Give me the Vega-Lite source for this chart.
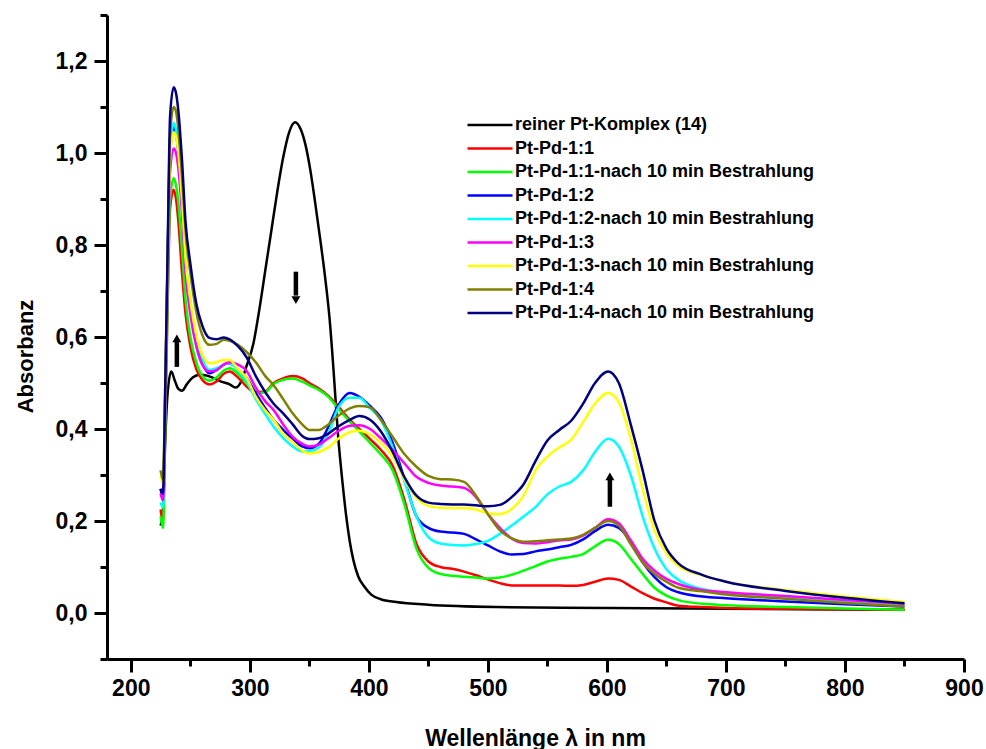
{
"$schema":"https://vega.github.io/schema/vega-lite/v6.json",
"width":857,"height":644,
"autosize":{"type":"none"},
"padding":{"left":107,"top":15,"right":22,"bottom":90},
"background":"white",
"config":{"view":{"stroke":null},"font":"Liberation Sans",
"axis":{"grid":false,"domainColor":"black","domainWidth":3,"tickColor":"black","tickWidth":3,"labelColor":"black","labelFont":"Liberation Sans","labelFontSize":23,"labelFontWeight":"bold","titleColor":"black","titleFont":"Liberation Sans","titleFontWeight":"bold","labelFlush":false,"labelOverlap":false}},
"datasets":{
"names":[{"code":"K","name":"reiner Pt-Komplex (14)"},{"code":"R","name":"Pt-Pd-1:1"},{"code":"G","name":"Pt-Pd-1:1-nach 10 min Bestrahlung"},{"code":"B","name":"Pt-Pd-1:2"},{"code":"C","name":"Pt-Pd-1:2-nach 10 min Bestrahlung"},{"code":"M","name":"Pt-Pd-1:3"},{"code":"Y","name":"Pt-Pd-1:3-nach 10 min Bestrahlung"},{"code":"O","name":"Pt-Pd-1:4"},{"code":"N","name":"Pt-Pd-1:4-nach 10 min Bestrahlung"}],
"spectra":[
{"s":"K","x":225,"y":0.19},{"s":"K","x":227,"y":0.22},{"s":"K","x":229,"y":0.38},{"s":"K","x":231,"y":0.48},{"s":"K","x":234,"y":0.525},{"s":"K","x":237,"y":0.505},{"s":"K","x":240,"y":0.487},{"s":"K","x":243,"y":0.483},{"s":"K","x":247,"y":0.497},{"s":"K","x":252,"y":0.512},{"s":"K","x":258,"y":0.518},{"s":"K","x":264,"y":0.516},{"s":"K","x":270,"y":0.51},{"s":"K","x":276,"y":0.503},{"s":"K","x":283,"y":0.497},{"s":"K","x":288,"y":0.49},{"s":"K","x":293,"y":0.505},{"s":"K","x":297,"y":0.535},{"s":"K","x":303,"y":0.586},{"s":"K","x":308,"y":0.66},{"s":"K","x":313,"y":0.745},{"s":"K","x":318,"y":0.83},{"s":"K","x":323,"y":0.915},{"s":"K","x":328,"y":0.99},{"s":"K","x":333,"y":1.045},{"s":"K","x":338,"y":1.067},{"s":"K","x":343,"y":1.05},{"s":"K","x":347,"y":1.015},{"s":"K","x":351,"y":0.96},{"s":"K","x":355,"y":0.89},{"s":"K","x":359,"y":0.815},{"s":"K","x":363,"y":0.735},{"s":"K","x":367,"y":0.64},{"s":"K","x":370,"y":0.54},{"s":"K","x":374,"y":0.39},{"s":"K","x":378,"y":0.28},{"s":"K","x":381,"y":0.21},{"s":"K","x":384,"y":0.155},{"s":"K","x":387,"y":0.115},{"s":"K","x":391,"y":0.08},{"s":"K","x":396,"y":0.058},{"s":"K","x":402,"y":0.04},{"s":"K","x":410,"y":0.03},{"s":"K","x":423,"y":0.024},{"s":"K","x":450,"y":0.018},{"s":"K","x":507,"y":0.013},{"s":"K","x":600,"y":0.011},{"s":"K","x":700,"y":0.009},{"s":"K","x":850,"y":0.007},
{"s":"R","x":225,"y":0.225},{"s":"R","x":227,"y":0.2},{"s":"R","x":229,"y":0.42},{"s":"R","x":231,"y":0.68},{"s":"R","x":233,"y":0.88},{"s":"R","x":236,"y":0.92},{"s":"R","x":238,"y":0.9},{"s":"R","x":240,"y":0.85},{"s":"R","x":243,"y":0.74},{"s":"R","x":246,"y":0.65},{"s":"R","x":250,"y":0.58},{"s":"R","x":255,"y":0.53},{"s":"R","x":260,"y":0.507},{"s":"R","x":266,"y":0.497},{"s":"R","x":272,"y":0.503},{"s":"R","x":278,"y":0.52},{"s":"R","x":283,"y":0.525},{"s":"R","x":290,"y":0.512},{"s":"R","x":297,"y":0.493},{"s":"R","x":305,"y":0.48},{"s":"R","x":313,"y":0.482},{"s":"R","x":320,"y":0.5},{"s":"R","x":328,"y":0.51},{"s":"R","x":336,"y":0.515},{"s":"R","x":344,"y":0.51},{"s":"R","x":350,"y":0.5},{"s":"R","x":358,"y":0.488},{"s":"R","x":366,"y":0.472},{"s":"R","x":374,"y":0.45},{"s":"R","x":384,"y":0.42},{"s":"R","x":392,"y":0.4},{"s":"R","x":401,"y":0.378},{"s":"R","x":410,"y":0.355},{"s":"R","x":420,"y":0.32},{"s":"R","x":430,"y":0.245},{"s":"R","x":440,"y":0.15},{"s":"R","x":450,"y":0.112},{"s":"R","x":460,"y":0.1},{"s":"R","x":470,"y":0.096},{"s":"R","x":480,"y":0.09},{"s":"R","x":490,"y":0.082},{"s":"R","x":500,"y":0.073},{"s":"R","x":510,"y":0.065},{"s":"R","x":520,"y":0.06},{"s":"R","x":530,"y":0.06},{"s":"R","x":540,"y":0.06},{"s":"R","x":550,"y":0.06},{"s":"R","x":560,"y":0.06},{"s":"R","x":570,"y":0.059},{"s":"R","x":580,"y":0.061},{"s":"R","x":590,"y":0.068},{"s":"R","x":601,"y":0.075},{"s":"R","x":610,"y":0.072},{"s":"R","x":620,"y":0.058},{"s":"R","x":630,"y":0.043},{"s":"R","x":640,"y":0.031},{"s":"R","x":650,"y":0.023},{"s":"R","x":660,"y":0.016},{"s":"R","x":680,"y":0.013},{"s":"R","x":700,"y":0.011},{"s":"R","x":750,"y":0.009},{"s":"R","x":800,"y":0.008},{"s":"R","x":850,"y":0.007},
{"s":"G","x":225,"y":0.21},{"s":"G","x":227,"y":0.185},{"s":"G","x":229,"y":0.42},{"s":"G","x":231,"y":0.7},{"s":"G","x":233,"y":0.9},{"s":"G","x":236,"y":0.945},{"s":"G","x":238,"y":0.93},{"s":"G","x":240,"y":0.89},{"s":"G","x":243,"y":0.79},{"s":"G","x":246,"y":0.68},{"s":"G","x":250,"y":0.6},{"s":"G","x":255,"y":0.545},{"s":"G","x":260,"y":0.515},{"s":"G","x":266,"y":0.505},{"s":"G","x":272,"y":0.512},{"s":"G","x":278,"y":0.527},{"s":"G","x":283,"y":0.532},{"s":"G","x":290,"y":0.52},{"s":"G","x":297,"y":0.5},{"s":"G","x":305,"y":0.478},{"s":"G","x":313,"y":0.48},{"s":"G","x":320,"y":0.498},{"s":"G","x":328,"y":0.507},{"s":"G","x":336,"y":0.51},{"s":"G","x":344,"y":0.503},{"s":"G","x":350,"y":0.495},{"s":"G","x":358,"y":0.485},{"s":"G","x":366,"y":0.47},{"s":"G","x":374,"y":0.445},{"s":"G","x":384,"y":0.416},{"s":"G","x":392,"y":0.395},{"s":"G","x":401,"y":0.37},{"s":"G","x":410,"y":0.345},{"s":"G","x":420,"y":0.31},{"s":"G","x":430,"y":0.235},{"s":"G","x":440,"y":0.14},{"s":"G","x":450,"y":0.098},{"s":"G","x":460,"y":0.085},{"s":"G","x":470,"y":0.081},{"s":"G","x":480,"y":0.079},{"s":"G","x":490,"y":0.077},{"s":"G","x":500,"y":0.075},{"s":"G","x":510,"y":0.077},{"s":"G","x":520,"y":0.083},{"s":"G","x":530,"y":0.092},{"s":"G","x":540,"y":0.102},{"s":"G","x":550,"y":0.112},{"s":"G","x":560,"y":0.118},{"s":"G","x":570,"y":0.122},{"s":"G","x":580,"y":0.128},{"s":"G","x":590,"y":0.145},{"s":"G","x":601,"y":0.159},{"s":"G","x":610,"y":0.15},{"s":"G","x":620,"y":0.118},{"s":"G","x":630,"y":0.085},{"s":"G","x":640,"y":0.055},{"s":"G","x":650,"y":0.038},{"s":"G","x":660,"y":0.028},{"s":"G","x":680,"y":0.02},{"s":"G","x":700,"y":0.017},{"s":"G","x":750,"y":0.013},{"s":"G","x":800,"y":0.01},{"s":"G","x":850,"y":0.007},
{"s":"B","x":225,"y":0.27},{"s":"B","x":227,"y":0.25},{"s":"B","x":229,"y":0.48},{"s":"B","x":231,"y":0.77},{"s":"B","x":233,"y":1.0},{"s":"B","x":236,"y":1.055},{"s":"B","x":238,"y":1.04},{"s":"B","x":240,"y":1.0},{"s":"B","x":243,"y":0.89},{"s":"B","x":246,"y":0.76},{"s":"B","x":250,"y":0.67},{"s":"B","x":255,"y":0.59},{"s":"B","x":260,"y":0.545},{"s":"B","x":266,"y":0.521},{"s":"B","x":272,"y":0.528},{"s":"B","x":278,"y":0.54},{"s":"B","x":283,"y":0.543},{"s":"B","x":290,"y":0.53},{"s":"B","x":297,"y":0.512},{"s":"B","x":305,"y":0.478},{"s":"B","x":313,"y":0.445},{"s":"B","x":320,"y":0.42},{"s":"B","x":328,"y":0.398},{"s":"B","x":336,"y":0.378},{"s":"B","x":344,"y":0.362},{"s":"B","x":350,"y":0.358},{"s":"B","x":358,"y":0.368},{"s":"B","x":366,"y":0.405},{"s":"B","x":374,"y":0.45},{"s":"B","x":384,"y":0.478},{"s":"B","x":392,"y":0.47},{"s":"B","x":401,"y":0.45},{"s":"B","x":410,"y":0.425},{"s":"B","x":420,"y":0.37},{"s":"B","x":430,"y":0.29},{"s":"B","x":440,"y":0.21},{"s":"B","x":450,"y":0.185},{"s":"B","x":460,"y":0.177},{"s":"B","x":470,"y":0.175},{"s":"B","x":480,"y":0.172},{"s":"B","x":490,"y":0.16},{"s":"B","x":500,"y":0.147},{"s":"B","x":510,"y":0.134},{"s":"B","x":520,"y":0.127},{"s":"B","x":530,"y":0.128},{"s":"B","x":540,"y":0.134},{"s":"B","x":550,"y":0.138},{"s":"B","x":560,"y":0.143},{"s":"B","x":570,"y":0.148},{"s":"B","x":580,"y":0.16},{"s":"B","x":590,"y":0.178},{"s":"B","x":601,"y":0.192},{"s":"B","x":610,"y":0.185},{"s":"B","x":620,"y":0.155},{"s":"B","x":630,"y":0.11},{"s":"B","x":640,"y":0.078},{"s":"B","x":650,"y":0.056},{"s":"B","x":660,"y":0.045},{"s":"B","x":680,"y":0.036},{"s":"B","x":700,"y":0.032},{"s":"B","x":750,"y":0.025},{"s":"B","x":800,"y":0.019},{"s":"B","x":850,"y":0.014},
{"s":"C","x":225,"y":0.24},{"s":"C","x":227,"y":0.23},{"s":"C","x":229,"y":0.47},{"s":"C","x":231,"y":0.77},{"s":"C","x":233,"y":1.0},{"s":"C","x":236,"y":1.065},{"s":"C","x":238,"y":1.05},{"s":"C","x":240,"y":1.01},{"s":"C","x":243,"y":0.9},{"s":"C","x":246,"y":0.77},{"s":"C","x":250,"y":0.68},{"s":"C","x":255,"y":0.6},{"s":"C","x":260,"y":0.553},{"s":"C","x":266,"y":0.528},{"s":"C","x":272,"y":0.532},{"s":"C","x":278,"y":0.54},{"s":"C","x":283,"y":0.543},{"s":"C","x":290,"y":0.527},{"s":"C","x":297,"y":0.505},{"s":"C","x":305,"y":0.465},{"s":"C","x":313,"y":0.432},{"s":"C","x":320,"y":0.405},{"s":"C","x":328,"y":0.38},{"s":"C","x":336,"y":0.362},{"s":"C","x":344,"y":0.351},{"s":"C","x":350,"y":0.352},{"s":"C","x":358,"y":0.36},{"s":"C","x":366,"y":0.39},{"s":"C","x":374,"y":0.445},{"s":"C","x":384,"y":0.468},{"s":"C","x":392,"y":0.468},{"s":"C","x":401,"y":0.445},{"s":"C","x":410,"y":0.42},{"s":"C","x":420,"y":0.36},{"s":"C","x":430,"y":0.285},{"s":"C","x":440,"y":0.21},{"s":"C","x":450,"y":0.165},{"s":"C","x":460,"y":0.151},{"s":"C","x":470,"y":0.148},{"s":"C","x":480,"y":0.147},{"s":"C","x":490,"y":0.15},{"s":"C","x":500,"y":0.157},{"s":"C","x":510,"y":0.172},{"s":"C","x":520,"y":0.19},{"s":"C","x":530,"y":0.21},{"s":"C","x":540,"y":0.23},{"s":"C","x":550,"y":0.258},{"s":"C","x":560,"y":0.275},{"s":"C","x":570,"y":0.285},{"s":"C","x":580,"y":0.31},{"s":"C","x":590,"y":0.35},{"s":"C","x":601,"y":0.379},{"s":"C","x":610,"y":0.362},{"s":"C","x":620,"y":0.3},{"s":"C","x":630,"y":0.21},{"s":"C","x":640,"y":0.14},{"s":"C","x":650,"y":0.095},{"s":"C","x":660,"y":0.072},{"s":"C","x":680,"y":0.052},{"s":"C","x":700,"y":0.044},{"s":"C","x":750,"y":0.033},{"s":"C","x":800,"y":0.024},{"s":"C","x":850,"y":0.016},
{"s":"M","x":225,"y":0.26},{"s":"M","x":227,"y":0.245},{"s":"M","x":229,"y":0.46},{"s":"M","x":231,"y":0.74},{"s":"M","x":233,"y":0.96},{"s":"M","x":236,"y":1.01},{"s":"M","x":238,"y":1.0},{"s":"M","x":240,"y":0.965},{"s":"M","x":243,"y":0.87},{"s":"M","x":246,"y":0.74},{"s":"M","x":250,"y":0.65},{"s":"M","x":255,"y":0.58},{"s":"M","x":260,"y":0.54},{"s":"M","x":266,"y":0.525},{"s":"M","x":272,"y":0.528},{"s":"M","x":278,"y":0.54},{"s":"M","x":283,"y":0.545},{"s":"M","x":290,"y":0.54},{"s":"M","x":297,"y":0.527},{"s":"M","x":305,"y":0.49},{"s":"M","x":313,"y":0.46},{"s":"M","x":320,"y":0.441},{"s":"M","x":328,"y":0.41},{"s":"M","x":336,"y":0.383},{"s":"M","x":344,"y":0.368},{"s":"M","x":350,"y":0.362},{"s":"M","x":358,"y":0.366},{"s":"M","x":366,"y":0.38},{"s":"M","x":374,"y":0.395},{"s":"M","x":384,"y":0.407},{"s":"M","x":392,"y":0.408},{"s":"M","x":401,"y":0.4},{"s":"M","x":410,"y":0.38},{"s":"M","x":420,"y":0.354},{"s":"M","x":430,"y":0.325},{"s":"M","x":440,"y":0.296},{"s":"M","x":450,"y":0.283},{"s":"M","x":460,"y":0.277},{"s":"M","x":470,"y":0.275},{"s":"M","x":480,"y":0.272},{"s":"M","x":490,"y":0.252},{"s":"M","x":500,"y":0.215},{"s":"M","x":510,"y":0.185},{"s":"M","x":520,"y":0.162},{"s":"M","x":530,"y":0.152},{"s":"M","x":540,"y":0.151},{"s":"M","x":550,"y":0.154},{"s":"M","x":560,"y":0.158},{"s":"M","x":570,"y":0.16},{"s":"M","x":580,"y":0.168},{"s":"M","x":590,"y":0.185},{"s":"M","x":601,"y":0.204},{"s":"M","x":610,"y":0.195},{"s":"M","x":620,"y":0.158},{"s":"M","x":630,"y":0.118},{"s":"M","x":640,"y":0.092},{"s":"M","x":650,"y":0.074},{"s":"M","x":660,"y":0.063},{"s":"M","x":680,"y":0.05},{"s":"M","x":700,"y":0.045},{"s":"M","x":750,"y":0.037},{"s":"M","x":800,"y":0.028},{"s":"M","x":850,"y":0.02},
{"s":"Y","x":225,"y":0.3},{"s":"Y","x":227,"y":0.28},{"s":"Y","x":229,"y":0.5},{"s":"Y","x":231,"y":0.77},{"s":"Y","x":233,"y":0.99},{"s":"Y","x":236,"y":1.045},{"s":"Y","x":238,"y":1.035},{"s":"Y","x":240,"y":1.0},{"s":"Y","x":243,"y":0.9},{"s":"Y","x":246,"y":0.77},{"s":"Y","x":250,"y":0.68},{"s":"Y","x":255,"y":0.605},{"s":"Y","x":260,"y":0.562},{"s":"Y","x":266,"y":0.543},{"s":"Y","x":272,"y":0.545},{"s":"Y","x":278,"y":0.55},{"s":"Y","x":283,"y":0.55},{"s":"Y","x":290,"y":0.53},{"s":"Y","x":297,"y":0.512},{"s":"Y","x":305,"y":0.47},{"s":"Y","x":313,"y":0.44},{"s":"Y","x":320,"y":0.42},{"s":"Y","x":328,"y":0.39},{"s":"Y","x":336,"y":0.372},{"s":"Y","x":344,"y":0.353},{"s":"Y","x":350,"y":0.347},{"s":"Y","x":358,"y":0.35},{"s":"Y","x":366,"y":0.36},{"s":"Y","x":374,"y":0.378},{"s":"Y","x":384,"y":0.393},{"s":"Y","x":392,"y":0.396},{"s":"Y","x":401,"y":0.388},{"s":"Y","x":410,"y":0.37},{"s":"Y","x":420,"y":0.34},{"s":"Y","x":430,"y":0.29},{"s":"Y","x":440,"y":0.25},{"s":"Y","x":450,"y":0.233},{"s":"Y","x":460,"y":0.229},{"s":"Y","x":470,"y":0.228},{"s":"Y","x":480,"y":0.228},{"s":"Y","x":490,"y":0.225},{"s":"Y","x":500,"y":0.217},{"s":"Y","x":510,"y":0.215},{"s":"Y","x":520,"y":0.226},{"s":"Y","x":530,"y":0.255},{"s":"Y","x":540,"y":0.31},{"s":"Y","x":550,"y":0.34},{"s":"Y","x":560,"y":0.36},{"s":"Y","x":570,"y":0.377},{"s":"Y","x":580,"y":0.415},{"s":"Y","x":590,"y":0.455},{"s":"Y","x":601,"y":0.478},{"s":"Y","x":610,"y":0.458},{"s":"Y","x":620,"y":0.38},{"s":"Y","x":630,"y":0.27},{"s":"Y","x":640,"y":0.18},{"s":"Y","x":650,"y":0.13},{"s":"Y","x":660,"y":0.102},{"s":"Y","x":680,"y":0.082},{"s":"Y","x":700,"y":0.068},{"s":"Y","x":750,"y":0.05},{"s":"Y","x":800,"y":0.036},{"s":"Y","x":850,"y":0.024},
{"s":"O","x":225,"y":0.31},{"s":"O","x":227,"y":0.29},{"s":"O","x":229,"y":0.5},{"s":"O","x":231,"y":0.78},{"s":"O","x":233,"y":1.04},{"s":"O","x":236,"y":1.1},{"s":"O","x":238,"y":1.09},{"s":"O","x":240,"y":1.05},{"s":"O","x":243,"y":0.95},{"s":"O","x":246,"y":0.83},{"s":"O","x":250,"y":0.74},{"s":"O","x":255,"y":0.655},{"s":"O","x":260,"y":0.605},{"s":"O","x":266,"y":0.583},{"s":"O","x":272,"y":0.585},{"s":"O","x":278,"y":0.594},{"s":"O","x":283,"y":0.592},{"s":"O","x":290,"y":0.583},{"s":"O","x":297,"y":0.568},{"s":"O","x":305,"y":0.545},{"s":"O","x":313,"y":0.515},{"s":"O","x":320,"y":0.495},{"s":"O","x":328,"y":0.465},{"s":"O","x":336,"y":0.434},{"s":"O","x":344,"y":0.41},{"s":"O","x":350,"y":0.398},{"s":"O","x":358,"y":0.398},{"s":"O","x":366,"y":0.41},{"s":"O","x":374,"y":0.428},{"s":"O","x":384,"y":0.445},{"s":"O","x":392,"y":0.45},{"s":"O","x":401,"y":0.447},{"s":"O","x":410,"y":0.42},{"s":"O","x":420,"y":0.383},{"s":"O","x":430,"y":0.345},{"s":"O","x":440,"y":0.318},{"s":"O","x":450,"y":0.298},{"s":"O","x":460,"y":0.291},{"s":"O","x":470,"y":0.29},{"s":"O","x":480,"y":0.285},{"s":"O","x":490,"y":0.255},{"s":"O","x":500,"y":0.215},{"s":"O","x":510,"y":0.18},{"s":"O","x":520,"y":0.162},{"s":"O","x":530,"y":0.155},{"s":"O","x":540,"y":0.156},{"s":"O","x":550,"y":0.158},{"s":"O","x":560,"y":0.16},{"s":"O","x":570,"y":0.162},{"s":"O","x":580,"y":0.17},{"s":"O","x":590,"y":0.185},{"s":"O","x":601,"y":0.2},{"s":"O","x":610,"y":0.19},{"s":"O","x":620,"y":0.15},{"s":"O","x":630,"y":0.11},{"s":"O","x":640,"y":0.085},{"s":"O","x":650,"y":0.068},{"s":"O","x":660,"y":0.055},{"s":"O","x":680,"y":0.047},{"s":"O","x":700,"y":0.04},{"s":"O","x":750,"y":0.031},{"s":"O","x":800,"y":0.022},{"s":"O","x":850,"y":0.014},
{"s":"N","x":225,"y":0.27},{"s":"N","x":227,"y":0.26},{"s":"N","x":229,"y":0.5},{"s":"N","x":231,"y":0.8},{"s":"N","x":233,"y":1.08},{"s":"N","x":236,"y":1.143},{"s":"N","x":238,"y":1.13},{"s":"N","x":240,"y":1.09},{"s":"N","x":243,"y":0.985},{"s":"N","x":246,"y":0.85},{"s":"N","x":250,"y":0.76},{"s":"N","x":255,"y":0.673},{"s":"N","x":260,"y":0.625},{"s":"N","x":266,"y":0.598},{"s":"N","x":272,"y":0.595},{"s":"N","x":278,"y":0.599},{"s":"N","x":283,"y":0.595},{"s":"N","x":290,"y":0.58},{"s":"N","x":297,"y":0.557},{"s":"N","x":305,"y":0.515},{"s":"N","x":313,"y":0.48},{"s":"N","x":320,"y":0.455},{"s":"N","x":328,"y":0.434},{"s":"N","x":336,"y":0.41},{"s":"N","x":344,"y":0.385},{"s":"N","x":350,"y":0.378},{"s":"N","x":358,"y":0.38},{"s":"N","x":366,"y":0.39},{"s":"N","x":374,"y":0.405},{"s":"N","x":384,"y":0.42},{"s":"N","x":392,"y":0.428},{"s":"N","x":401,"y":0.42},{"s":"N","x":410,"y":0.395},{"s":"N","x":420,"y":0.35},{"s":"N","x":430,"y":0.295},{"s":"N","x":440,"y":0.255},{"s":"N","x":450,"y":0.24},{"s":"N","x":460,"y":0.237},{"s":"N","x":470,"y":0.236},{"s":"N","x":480,"y":0.236},{"s":"N","x":490,"y":0.234},{"s":"N","x":500,"y":0.232},{"s":"N","x":510,"y":0.235},{"s":"N","x":520,"y":0.252},{"s":"N","x":530,"y":0.28},{"s":"N","x":540,"y":0.33},{"s":"N","x":550,"y":0.375},{"s":"N","x":560,"y":0.398},{"s":"N","x":570,"y":0.418},{"s":"N","x":580,"y":0.455},{"s":"N","x":590,"y":0.5},{"s":"N","x":601,"y":0.525},{"s":"N","x":610,"y":0.5},{"s":"N","x":620,"y":0.41},{"s":"N","x":630,"y":0.31},{"s":"N","x":640,"y":0.2},{"s":"N","x":650,"y":0.14},{"s":"N","x":660,"y":0.108},{"s":"N","x":680,"y":0.083},{"s":"N","x":700,"y":0.068},{"s":"N","x":750,"y":0.048},{"s":"N","x":800,"y":0.033},{"s":"N","x":850,"y":0.021}
],
"shafts":[{"x":238.7,"y":0.535,"y2":0.59},{"x":338.7,"y":0.742,"y2":0.69},{"x":602.5,"y":0.231,"y2":0.29}],
"heads":[{"x":238.7,"y":0.597,"dir":"up"},{"x":338.7,"y":0.68,"dir":"down"},{"x":602.5,"y":0.297,"dir":"up"}]
},
"encoding":{
"x":{"field":"x","type":"quantitative","scale":{"domain":[180,900],"nice":false,"zero":false},
"axis":{"title":"Wellenlänge λ in nm","titleFontSize":23,"titleX":428,"titleY":86,"titleAlign":"center","titleBaseline":"alphabetic",
"values":[200,250,300,350,400,450,500,550,600,650,700,750,800,850,900],
"labelExpr":"datum.value % 100 === 0 ? format(datum.value,'d') : ''",
"tickSize":{"condition":{"test":"datum.value % 100 === 0","value":13},"value":7},"labelPadding":5}},
"y":{"field":"y","type":"quantitative","scale":{"domain":[-0.1,1.3],"nice":false,"zero":false},
"axis":{"title":"Absorbanz","titleFontSize":22,"titleX":-75,"titleY":341,"titleAngle":270,"titleAlign":"center","titleBaseline":"alphabetic",
"values":[-0.1,0,0.1,0.2,0.3,0.4,0.5,0.6,0.7,0.8,0.9,1.0,1.1,1.2,1.3],
"labelExpr":"round(datum.value*10) % 2 === 0 ? replace(format(datum.value,'.1f'),'.',',') : ''",
"tickSize":{"condition":{"test":"round(datum.value*10) % 2 === 0","value":13},"value":7},"labelPadding":7}}
},
"layer":[
{"data":{"name":"spectra"},
"transform":[{"lookup":"s","from":{"data":{"name":"names"},"key":"code","fields":["name"]}}],
"mark":{"type":"line","strokeWidth":2.5,"interpolate":"monotone","clip":true},
"encoding":{"color":{"field":"name","type":"nominal",
"scale":{"domain":["reiner Pt-Komplex (14)","Pt-Pd-1:1","Pt-Pd-1:1-nach 10 min Bestrahlung","Pt-Pd-1:2","Pt-Pd-1:2-nach 10 min Bestrahlung","Pt-Pd-1:3","Pt-Pd-1:3-nach 10 min Bestrahlung","Pt-Pd-1:4","Pt-Pd-1:4-nach 10 min Bestrahlung"],
"range":["#000000","#FF0000","#00FF00","#0000FF","#00FFFF","#FF00FF","#FFFF00","#808000","#000080"]},
"legend":{"title":null,"orient":"none","legendX":374,"legendY":101,"symbolType":"M-3,0H3","symbolSize":225,"symbolStrokeWidth":2.5,"labelFontSize":18,"labelFont":"Liberation Sans","labelFontWeight":"bold","labelColor":"black","labelOffset":16,"rowPadding":5.5,"padding":0,"labelLimit":600}}}},
{"data":{"name":"shafts"},"mark":{"type":"rule","strokeWidth":4.5,"color":"black"},
"encoding":{"y2":{"field":"y2"}}},
{"data":{"name":"heads"},"mark":{"type":"point","filled":true,"color":"black","opacity":1,"size":80},
"encoding":{"shape":{"field":"dir","type":"nominal","scale":{"domain":["up","down"],"range":["triangle-up","triangle-down"]},"legend":null}}}
]
}
